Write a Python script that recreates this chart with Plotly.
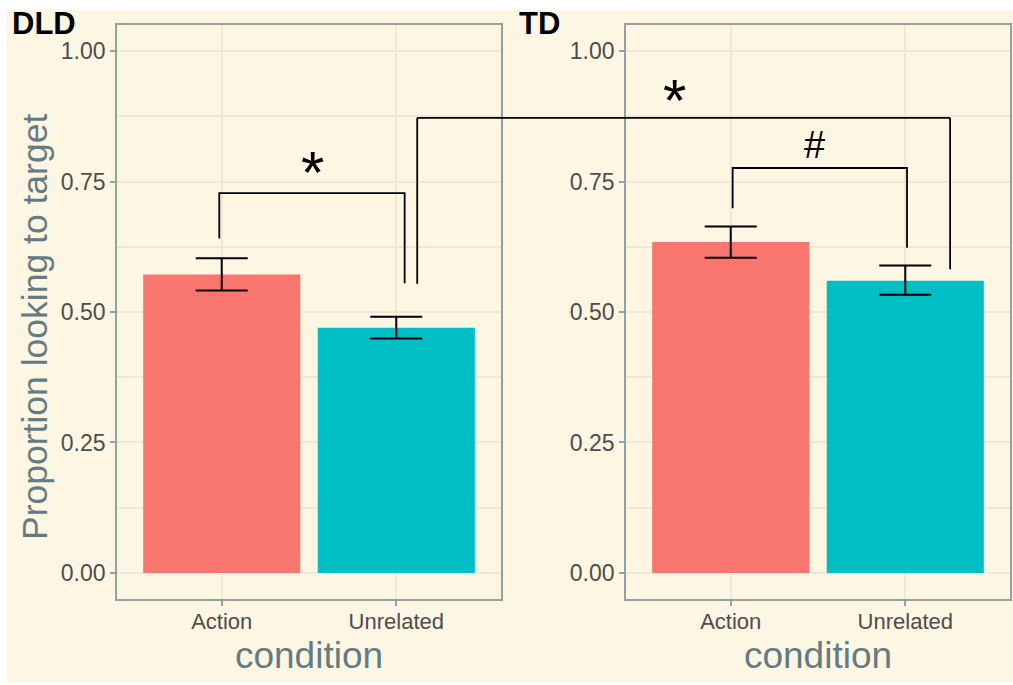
import plotly.graph_objects as go

# ---------------- data ----------------
groups = ["DLD", "TD"]
conditions = ["Action", "Unrelated"]
dld_mean = [0.572, 0.470]
dld_low = [0.541, 0.449]
dld_high = [0.603, 0.491]
td_mean = [0.634, 0.560]
td_low = [0.604, 0.533]
td_high = [0.664, 0.589]
bar_colors = ["#F8766D", "#00BFC4"]
y_ticks = [0.0, 0.25, 0.5, 0.75, 1.0]
y_tick_text = ["0.00", "0.25", "0.50", "0.75", "1.00"]

# significance brackets (category index x, data y)
dld_bracket_x = [-0.014, 1.048]
dld_bracket_y = [0.641, 0.728, 0.555]
td_bracket_x = [0.011, 1.01]
td_bracket_y = [0.699, 0.776, 0.623]
cross_bracket_x = [1.12, 1.257]   # left-panel x, right-panel x
cross_bracket_y = [0.554, 0.872, 0.582]
labels_sig = ["*", "#", "*"]
label_pos = [(0.52, 0.784, "x", "y"), (0.48, 0.820, "x2", "y2"), (-0.32, 0.922, "x2", "y2")]

# ---------------- style ----------------
BG = "#FDF6E3"
GRID = "#EEE8D5"
AXIS = "#93A1A1"
TITLE_C = "#657B83"
TICK_C = "#4D4D4D"
FONT = "Liberation Sans, Arial, sans-serif"

W, H = 1013, 685
ML, MR, MT, MB = 117, 3, 25, 86
plot_w = W - ML - MR
plot_h = H - MT - MB
dom1 = [0.0, 384 / plot_w]
dom2 = [(626 - ML) / plot_w, 1.0]
xr = [-0.6, 1.6]
yr = [-0.05, 1.05]


def paper_x(px):
    return (px - ML) / plot_w


def paper_y(py):
    return 1 - (py - MT) / plot_h


def data_to_paper(xdata, dom):
    return dom[0] + (xdata - xr[0]) / (xr[1] - xr[0]) * (dom[1] - dom[0])


fig = go.Figure()


def add_bars(means, lows, highs, xa, ya):
    fig.add_trace(go.Bar(
        x=conditions, y=means, marker=dict(color=bar_colors, line=dict(width=0)),
        width=0.9, xaxis=xa, yaxis=ya, showlegend=False, hoverinfo="skip",
        error_y=dict(type="data", symmetric=False,
                     array=[h - m for h, m in zip(highs, means)],
                     arrayminus=[m - l for l, m in zip(lows, means)],
                     color="black", thickness=2, width=26),
    ))


add_bars(dld_mean, dld_low, dld_high, "x", "y")
add_bars(td_mean, td_low, td_high, "x2", "y2")

axis_common = dict(showline=True, linecolor=AXIS, linewidth=1.6, mirror=True,
                   ticks="outside", ticklen=5, tickwidth=1.6, tickcolor=AXIS,
                   gridcolor=GRID, gridwidth=1.8, zeroline=False)

xaxis_common = dict(axis_common, type="category", range=xr,
                    categoryorder="array", categoryarray=conditions,
                    ticklabelstandoff=-3,
                    tickfont=dict(family=FONT, size=22, color=TICK_C),
                    title=dict(text="condition", font=dict(family=FONT, size=37, color=TITLE_C),
                               standoff=9))
yaxis_common = dict(axis_common, range=yr, tickvals=y_ticks, ticktext=y_tick_text,
                    tickfont=dict(family=FONT, size=23, color=TICK_C),
                    minor=dict(tickvals=[0.125, 0.375, 0.625, 0.875], showgrid=True,
                               gridcolor=GRID, gridwidth=1.5, ticks=""))

fig.update_layout(
    width=W, height=H,
    margin=dict(l=ML, r=MR, t=MT, b=MB, autoexpand=False),
    paper_bgcolor="white", plot_bgcolor=BG,
    xaxis=dict(xaxis_common, domain=dom1, anchor="y"),
    yaxis=dict(yaxis_common, domain=[0, 1], anchor="x"),
    xaxis2=dict(xaxis_common, domain=dom2, anchor="y2"),
    yaxis2=dict(yaxis_common, domain=[0, 1], anchor="x2"),
    bargap=0.1,
)

# cream page background
fig.add_shape(type="rect", xref="paper", yref="paper", layer="below",
              x0=paper_x(7), x1=paper_x(W), y0=paper_y(682), y1=paper_y(10),
              fillcolor=BG, line=dict(width=0))

# y-axis title
fig.add_annotation(x=paper_x(35), y=paper_y(327), xref="paper", yref="paper",
                   text="Proportion looking to target", textangle=-90, showarrow=False,
                   xanchor="center", yanchor="middle",
                   font=dict(family=FONT, size=35.5, color=TITLE_C))

line = dict(color="black", width=1.8)


def bracket(xs, ys, xref, yref):
    fig.add_shape(type="path", xref=xref, yref=yref, line=line,
                  path=f"M {xs[0]} {ys[0]} L {xs[0]} {ys[1]} L {xs[1]} {ys[1]} L {xs[1]} {ys[2]}")


bracket(dld_bracket_x, dld_bracket_y, "x", "y")
bracket(td_bracket_x, td_bracket_y, "x2", "y2")

# cross-panel bracket
fig.add_shape(type="line", xref="x", yref="y", x0=cross_bracket_x[0], x1=cross_bracket_x[0],
              y0=cross_bracket_y[0], y1=cross_bracket_y[1], line=line)
fig.add_shape(type="line", xref="x2", yref="y2", x0=cross_bracket_x[1], x1=cross_bracket_x[1],
              y0=cross_bracket_y[2], y1=cross_bracket_y[1], line=line)
fig.add_shape(type="line", xref="paper", yref="y",
              x0=data_to_paper(cross_bracket_x[0], dom1), x1=data_to_paper(cross_bracket_x[1], dom2),
              y0=cross_bracket_y[1], y1=cross_bracket_y[1], line=line)

# significance labels
for lab, (lx, ly, xa, ya) in zip(labels_sig, label_pos):
    star = lab == "*"
    fig.add_annotation(x=lx, y=ly, xref=xa, yref=ya, text=lab, showarrow=False,
                       xanchor="center", yanchor="middle",
                       yshift=-9 if star else 0,
                       font=dict(family=FONT, size=60 if star else 38, color="black"))

# panel titles
for name, px_left in zip(groups, [10, 517]):
    fig.add_annotation(x=paper_x(px_left), y=paper_y(23), xref="paper", yref="paper",
                       xanchor="left", yanchor="middle",
                       text=f"<b>{name}</b>", showarrow=False,
                       font=dict(family=FONT, size=31, color="black"))

fig.write_html("out.html", config={"displayModeBar": False},
               post_script="document.body.style.margin='0';document.body.style.overflow='hidden';")
